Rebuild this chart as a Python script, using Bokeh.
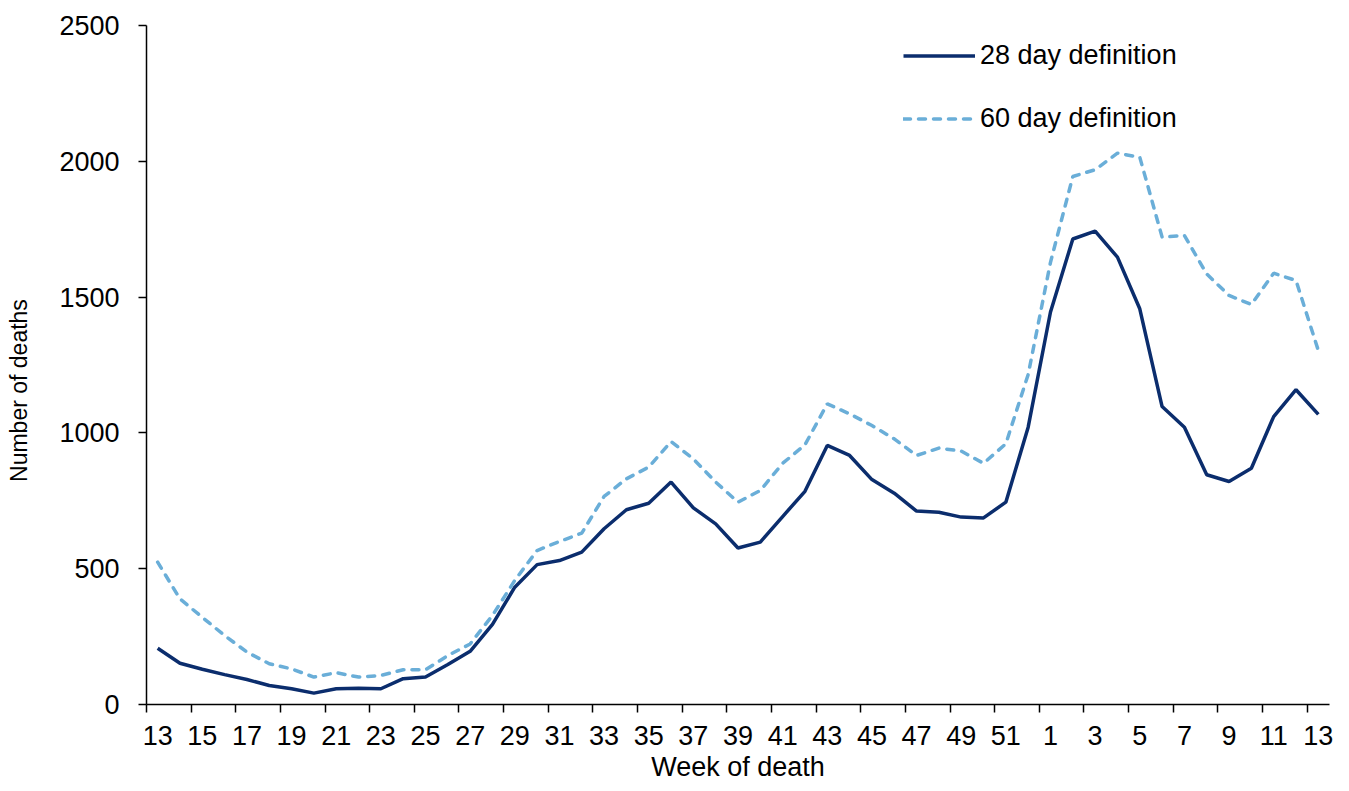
from bokeh.plotting import figure
from bokeh.models import Range1d, FixedTicker, Legend, LegendItem
from bokeh.embed import file_html
from bokeh.resources import INLINE

# Week of death (week 13 of one year to week 13 of the next)
weeks = [str(w) for w in list(range(13, 53)) + list(range(1, 14))]

deaths_28 = [207, 152, 130, 110, 92, 70, 58, 42, 58, 60,
             58, 95, 101, 147, 196, 295, 432, 515, 530, 561,
             647, 717, 741, 819, 724, 665, 576, 598, 692, 785,
             954, 917, 828, 778, 712, 708, 690, 687, 745, 1021,
             1445, 1714, 1743, 1647, 1457, 1097, 1021, 846, 821, 870,
             1060, 1159, 1068]

deaths_60 = [524, 389, 321, 254, 193, 150, 131, 101, 117, 101,
             107, 128, 128, 180, 223, 328, 457, 567, 600, 631,
             766, 831, 874, 968, 904, 819, 745, 788, 888, 956,
             1107, 1070, 1027, 978, 917, 944, 933, 888, 960, 1215,
             1628, 1944, 1969, 2030, 2015, 1721, 1727, 1585, 1506, 1473,
             1588, 1561, 1303]

y_ticks = [0, 500, 1000, 1500, 2000, 2500]

FONT = "Liberation Sans"
xs = list(range(len(weeks)))

p = figure(width=1349, height=791, output_backend="svg", toolbar_location=None,
           x_range=Range1d(-0.5, len(weeks) - 0.5), y_range=Range1d(0, 2500),
           min_border_left=146, min_border_right=20, min_border_top=25,
           min_border_bottom=87)
p.outline_line_color = None
p.xgrid.visible = False
p.ygrid.visible = False
p.background_fill_color = "white"
p.border_fill_color = "white"

r28 = p.line(xs, deaths_28, line_color="#0b2d6d", line_width=3.5)
r60 = p.line(xs, deaths_60, line_color="#6aaed8", line_width=3.5,
             line_dash="7 8", line_cap="round")

# x axis
label_idx = list(range(0, len(weeks), 2))
xa = p.xaxis[0]
xa.ticker = FixedTicker(ticks=label_idx, minor_ticks=[i - 0.5 for i in label_idx])
xa.major_label_overrides = {i: weeks[i] for i in label_idx}
xa.major_tick_line_color = None
xa.major_tick_out = 8
xa.major_tick_in = 0
xa.minor_tick_line_color = "black"
xa.minor_tick_line_width = 1.5
xa.minor_tick_out = 8
xa.minor_tick_in = 0
xa.axis_line_color = "black"
xa.axis_line_width = 1.5
xa.major_label_standoff = 13
xa.major_label_text_font = FONT
xa.major_label_text_font_size = "27px"
xa.major_label_text_color = "black"
xa.axis_label = "Week of death"
xa.axis_label_text_font = FONT
xa.axis_label_text_font_size = "27px"
xa.axis_label_text_font_style = "normal"
xa.axis_label_text_color = "black"
xa.axis_label_standoff = 4

# y axis
ya = p.yaxis[0]
ya.ticker = FixedTicker(ticks=y_ticks, minor_ticks=[])
ya.major_tick_out = 8
ya.major_tick_in = 0
ya.major_tick_line_width = 1.5
ya.major_tick_line_color = "black"
ya.minor_tick_line_color = None
ya.axis_line_color = "black"
ya.axis_line_width = 1.5
ya.major_label_standoff = 19
ya.major_label_text_font = FONT
ya.major_label_text_font_size = "27px"
ya.major_label_text_color = "black"
# trailing no-break spaces shift the centred title towards the bottom
ya.axis_label = "Number of deaths" + "\u00a0" * 8
ya.axis_label_text_font = FONT
ya.axis_label_text_font_size = "23px"
ya.axis_label_text_font_style = "normal"
ya.axis_label_text_color = "black"
ya.axis_label_standoff = 24

legend = Legend(items=[LegendItem(label="28 day definition", renderers=[r28]),
                       LegendItem(label="60 day definition", renderers=[r60])],
                location=(757, 570), orientation="vertical",
                padding=0, margin=0, spacing=32,
                glyph_width=72, glyph_height=27, label_height=27,
                label_standoff=5, border_line_color=None,
                background_fill_alpha=0,
                label_text_font=FONT, label_text_font_size="27px",
                label_text_color="black")
p.add_layout(legend)

open("out.html", "w").write(file_html(p, INLINE))
